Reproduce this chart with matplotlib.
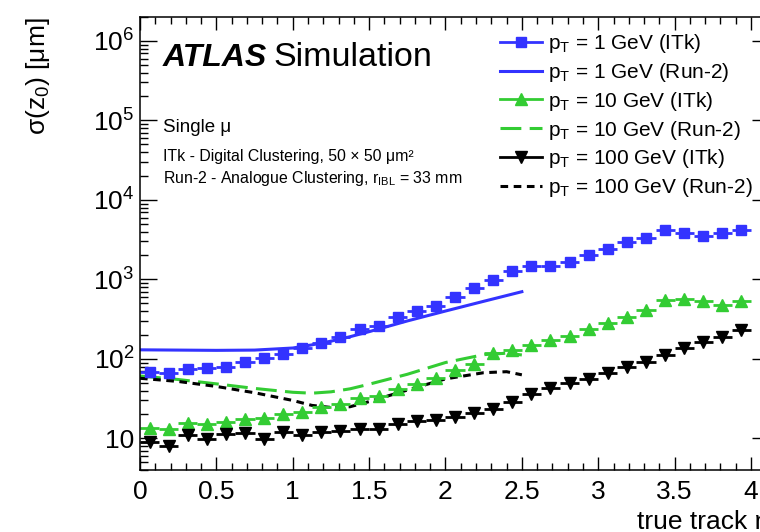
import numpy as np
import matplotlib.pyplot as plt
from matplotlib.lines import Line2D
from matplotlib.ticker import MultipleLocator, LogLocator, FuncFormatter, NullFormatter

plt.rcParams['font.family'] = ['Liberation Sans', 'DejaVu Sans']
plt.rcParams['mathtext.fontset'] = 'custom'
plt.rcParams['mathtext.rm'] = 'Liberation Sans'
plt.rcParams['mathtext.it'] = 'Liberation Sans:italic'
plt.rcParams['mathtext.bf'] = 'Liberation Sans:bold'
plt.rcParams['lines.scale_dashes'] = False

# ITk: 32 eta bins of width 0.125
eta = np.arange(0.0625, 4.0, 0.125)
half_bin = 0.0625
itk_1gev = [69, 67, 74.6, 76, 78, 90.6, 104, 116, 137, 160, 189, 237, 261, 332, 403, 466,
            600, 778, 991, 1262, 1459, 1459, 1637, 2047, 2436, 2958, 3327, 4150, 3846, 3557, 3846, 4150]
itk_10gev = [13.4, 13.0, 15.5, 15.1, 15.9, 17.4, 17.9, 20.2, 21.3, 24.6, 27, 31.9, 34.1, 41.9, 48.4, 57.1,
             73, 86, 119, 130, 150, 172, 195, 239, 282, 341, 415, 543, 566, 528, 480, 538]
itk_100gev = [9.06, 8.0, 11.0, 9.7, 11.2, 11.8, 9.7, 12.1, 11.0, 12.1, 12.5, 13.0, 13.0, 15.1, 16.5, 17.0,
              18.4, 21.0, 23.2, 29.0, 36.2, 42.7, 50.2, 55.5, 66, 78.6, 92.5, 112, 136, 161, 188, 232]

# Run-2 curves
run2_eta_1 = [0, 0.25, 0.5, 0.75, 1.0, 1.125, 1.25, 1.375, 1.5, 1.75, 2.0, 2.25, 2.5]
run2_1gev = [130, 129, 128, 129, 137, 150, 167, 190, 220, 300, 400, 530, 700]
run2_eta = [0, 0.25, 0.5, 0.75, 1.0, 1.125, 1.25, 1.375, 1.5, 1.75, 2.0, 2.25, 2.4, 2.5]
run2_10gev = [61, 55, 48.5, 42.5, 38, 37, 38.5, 42, 48, 64, 90, 113, 118, 112]
run2_100gev = [57, 52, 45, 37.5, 30, 26, 24.5, 25, 29, 40.5, 56, 67, 69, 63]

blue = '#3333ff'
green = '#33cc33'
dash_long = (15, 6)
dash_short = (5.5, 4)

fig = plt.figure(figsize=(7.6, 5.32), dpi=100)
ax = fig.add_axes([140/760, 1-470/532, 629/760, 453/532])

ax.plot(run2_eta_1, run2_1gev, color=blue, lw=2.2)
ax.plot(run2_eta, run2_10gev, color=green, lw=2.2, dashes=dash_long)
ax.plot(run2_eta, run2_100gev, color='k', lw=2.2, dashes=dash_short)

ax.errorbar(eta, itk_1gev, xerr=half_bin, fmt='s', color=blue, ms=7.5, elinewidth=2, capsize=0)
ax.errorbar(eta, itk_10gev, xerr=half_bin, fmt='^', color=green, ms=8, elinewidth=2, capsize=0)
ax.errorbar(eta, itk_100gev, xerr=half_bin, fmt='v', color='k', ms=8, elinewidth=2, capsize=0)

ax.set_yscale('log')
ax.set_xlim(0, 4.118)
ax.set_ylim(4, 2e6)
ax.xaxis.set_major_locator(MultipleLocator(0.5))
ax.xaxis.set_minor_locator(MultipleLocator(0.1))
ax.xaxis.set_major_formatter(FuncFormatter(lambda v, p: '%g' % v))
ax.yaxis.set_major_locator(LogLocator(base=10, numticks=10))
ax.yaxis.set_minor_locator(LogLocator(base=10, subs=np.arange(2, 10), numticks=20))
ax.yaxis.set_minor_formatter(NullFormatter())

def ylab(v, p):
    n = int(round(np.log10(v)))
    if n == 1:
        return '10'
    return '$10^{%d}$' % n
ax.yaxis.set_major_formatter(FuncFormatter(ylab))

ax.tick_params(which='both', direction='in', top=True, right=True, labelsize=19, width=1)
ax.tick_params(axis='x', which='major', length=9.4, pad=7)
ax.tick_params(axis='x', which='minor', length=4.7)
ax.tick_params(axis='y', which='major', length=12.2, pad=4)
ax.tick_params(axis='y', which='minor', length=5.8)
for s in ax.spines.values():
    s.set_linewidth(1.1)

ax.set_ylabel('σ(z$_{0}$) [μm]', fontsize=19, loc='top')
ax.yaxis.set_label_coords(-0.14, 1.0)
ax.set_xlabel('true track η', fontsize=19, loc='right')
ax.xaxis.set_label_coords(1.0, -0.088)

fig.text(163/760, 1-66/532, 'ATLAS', fontsize=23, fontweight='bold', fontstyle='italic', va='baseline')
fig.text(273/760, 1-66/532, 'Simulation', fontsize=24.5, va='baseline')
fig.text(163/760, 1-132/532, 'Single μ', fontsize=13.5, va='baseline')
fig.text(163/760, 1-161/532, 'ITk - Digital Clustering, 50 × 50 μm²', fontsize=11.4, va='baseline')
fig.text(163/760, 1-183/532, 'Run-2 - Analogue Clustering, r$_{\\rm IBL}$ = 33 mm', fontsize=11.4, va='baseline')

handles = [
    Line2D([], [], color=blue, lw=2, marker='s', ms=7.5),
    Line2D([], [], color=blue, lw=2.2),
    Line2D([], [], color=green, lw=2, marker='^', ms=8),
    Line2D([], [], color=green, lw=2.2, dashes=dash_long),
    Line2D([], [], color='k', lw=2, marker='v', ms=8),
    Line2D([], [], color='k', lw=2.2, dashes=dash_short),
]
labels = [
    'p$_{\\rm T}$ = 1 GeV (ITk)',
    'p$_{\\rm T}$ = 1 GeV (Run-2)',
    'p$_{\\rm T}$ = 10 GeV (ITk)',
    'p$_{\\rm T}$ = 10 GeV (Run-2)',
    'p$_{\\rm T}$ = 100 GeV (ITk)',
    'p$_{\\rm T}$ = 100 GeV (Run-2)',
]
fig.legend(handles, labels, loc='upper left', bbox_to_anchor=(500/760, 1-32/532), frameon=False,
           fontsize=15, handlelength=2.0, handletextpad=0.3, labelspacing=0.28,
           borderpad=0, borderaxespad=0, numpoints=1)

fig.savefig('out.png', dpi=100)
plt.close(fig)
